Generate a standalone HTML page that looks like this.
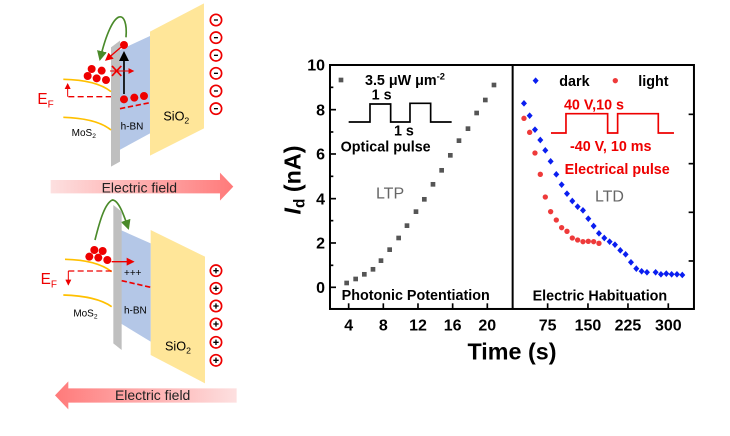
<!DOCTYPE html>
<html><head><meta charset="utf-8"><style>
html,body{margin:0;padding:0;background:#fff;}
svg{display:block;font-family:"Liberation Sans",Arial,sans-serif;}
</style></head><body>
<svg width="730" height="436" viewBox="0 0 730 436" xmlns="http://www.w3.org/2000/svg">
<defs>
<linearGradient id="gR" x1="0" x2="1"><stop offset="0" stop-color="#fde0e0"/><stop offset="1" stop-color="#ff7a7a"/></linearGradient>
<linearGradient id="gL" x1="0" x2="1"><stop offset="0" stop-color="#ff7a7a"/><stop offset="1" stop-color="#fde0e0"/></linearGradient>
<marker id="ar" markerWidth="6" markerHeight="6" refX="5" refY="3" orient="auto"><path d="M0,0 L6,3 L0,6z" fill="#e00"/></marker>
<marker id="ak" markerWidth="6" markerHeight="6" refX="5" refY="3" orient="auto"><path d="M0,0 L6,3 L0,6z" fill="#000"/></marker>
<marker id="ag" markerWidth="6" markerHeight="6" refX="5" refY="3" orient="auto"><path d="M0,0 L6,3 L0,6z" fill="#4a8a2a"/></marker>
</defs>
<!-- top diagram -->
<g transform="scale(0.3333)">
<polygon points="450,95 612,10 612,385 450,467" fill="#ffe699"/>
<polygon points="355,152 450,108 450,400 355,452" fill="#b4c7e7"/>
<polygon points="333,142 360,122 360,485 333,500" fill="#bfbfbf"/>
<g fill="none" stroke="#e00" stroke-width="5">
<circle cx="648" cy="60" r="17"/><circle cx="648" cy="113" r="17"/><circle cx="648" cy="166" r="17"/><circle cx="648" cy="220" r="17"/><circle cx="648" cy="273" r="17"/><circle cx="648" cy="326" r="17"/></g>
<g stroke="#000" stroke-width="4"><line x1="642" y1="60" x2="654" y2="60"/><line x1="642" y1="113" x2="654" y2="113"/><line x1="642" y1="166" x2="654" y2="166"/><line x1="642" y1="220" x2="654" y2="220"/><line x1="642" y1="273" x2="654" y2="273"/><line x1="642" y1="326" x2="654" y2="326"/></g>
<path d="M190,238 Q290,240 333,275" stroke="#ffc000" stroke-width="5" fill="none"/>
<path d="M190,352 Q290,355 333,390" stroke="#ffc000" stroke-width="5" fill="none"/>
<line x1="205" y1="290" x2="333" y2="290" stroke="#e00" stroke-width="4" stroke-dasharray="18,10"/>
<line x1="203" y1="290" x2="203" y2="252" stroke="#e00" stroke-width="3" marker-end="url(#ar)"/>
<text x="112" y="312" font-size="46" fill="#e00">E<tspan font-size="30" dy="10">F</tspan></text>
<line x1="360" y1="326" x2="450" y2="308" stroke="#e00" stroke-width="5" stroke-dasharray="16,8"/>
<line x1="372" y1="282" x2="372" y2="158" stroke="#000" stroke-width="5" marker-end="url(#ak)"/>
<line x1="365" y1="140" x2="318" y2="180" stroke="#e00" stroke-width="4" marker-end="url(#ar)"/>
<line x1="330" y1="213" x2="400" y2="213" stroke="#e00" stroke-width="3" marker-end="url(#ar)"/>
<path d="M336,198 L364,228 M364,198 L336,228" stroke="#e00" stroke-width="5"/>
<path d="M378,112 C385,30 340,10 300,178" stroke="#4a8a2a" stroke-width="5" fill="none" marker-end="url(#ag)"/>
<g fill="#ee0000"><circle cx="275" cy="207" r="12"/><circle cx="305" cy="212" r="12"/><circle cx="263" cy="228" r="12"/><circle cx="290" cy="235" r="12"/><circle cx="318" cy="240" r="12"/><circle cx="372" cy="298" r="12"/><circle cx="403" cy="293" r="12"/><circle cx="432" cy="288" r="12"/><circle cx="372" cy="135" r="12"/></g>
<text x="215" y="408" font-size="30">MoS<tspan font-size="20" dy="6">2</tspan></text>
<text x="362" y="388" font-size="30">h-BN</text>
<text x="490" y="362" font-size="38">SiO<tspan font-size="26" dy="8">2</tspan></text>
<polygon points="152,540 660,540 660,518 700,560 660,602 660,580 152,580" fill="url(#gR)"/>
<text x="418" y="578" font-size="42" text-anchor="middle" fill="#222">Electric field</text>
</g>
<!-- bottom diagram -->
<g transform="translate(0,210) scale(0.3333)">
<path d="M285,90 C300,30 315,-20 337,-30 C355,-30 370,10 385,55" stroke="#4a8a2a" stroke-width="5" fill="none" marker-end="url(#ag)"/>
<polygon points="452,60 615,140 615,520 452,435" fill="#ffe699"/>
<polygon points="362,60 452,100 452,395 362,340" fill="#b4c7e7"/>
<polygon points="340,-15 365,5 365,420 340,400" fill="#bfbfbf"/>
<g fill="none" stroke="#e00" stroke-width="5">
<circle cx="648" cy="182" r="17"/><circle cx="648" cy="235" r="17"/><circle cx="648" cy="288" r="17"/><circle cx="648" cy="342" r="17"/><circle cx="648" cy="397" r="17"/><circle cx="648" cy="451" r="17"/></g>
<g stroke="#000" stroke-width="4">
<path d="M640,182 h16 M648,174 v16"/><path d="M640,235 h16 M648,227 v16"/><path d="M640,288 h16 M648,280 v16"/><path d="M640,342 h16 M648,334 v16"/><path d="M640,397 h16 M648,389 v16"/><path d="M640,451 h16 M648,443 v16"/></g>
<path d="M195,148 Q290,150 335,185" stroke="#ffc000" stroke-width="5" fill="none"/>
<path d="M190,255 Q290,258 335,290" stroke="#ffc000" stroke-width="5" fill="none"/>
<line x1="205" y1="183" x2="335" y2="183" stroke="#e00" stroke-width="4" stroke-dasharray="18,10"/>
<line x1="205" y1="183" x2="205" y2="224" stroke="#e00" stroke-width="3" marker-end="url(#ar)"/>
<text x="122" y="222" font-size="46" fill="#e00">E<tspan font-size="30" dy="10">F</tspan></text>
<line x1="365" y1="212" x2="452" y2="232" stroke="#e00" stroke-width="5" stroke-dasharray="16,8"/>
<line x1="335" y1="155" x2="400" y2="155" stroke="#e00" stroke-width="4" marker-end="url(#ar)"/>
<text x="372" y="198" font-size="30">+++</text>
<g fill="#ee0000"><circle cx="283" cy="120" r="12"/><circle cx="308" cy="123" r="12"/><circle cx="268" cy="140" r="12"/><circle cx="295" cy="143" r="12"/><circle cx="322" cy="150" r="12"/></g>
<text x="220" y="320" font-size="30">MoS<tspan font-size="20" dy="6">2</tspan></text>
<text x="372" y="310" font-size="30">h-BN</text>
<text x="495" y="422" font-size="38">SiO<tspan font-size="26" dy="8">2</tspan></text>
<polygon points="710,535 205,535 205,514 165,556 205,598 205,578 710,578" fill="url(#gL)"/>
<text x="458" y="570" font-size="42" text-anchor="middle" fill="#222">Electric field</text>
</g>
<!-- chart -->
<g transform="translate(270,50) scale(0.3333)" font-weight="bold">
<rect x="180" y="45" width="1092" height="732" fill="none" stroke="#000" stroke-width="6"/>
<line x1="728" y1="45" x2="728" y2="777" stroke="#000" stroke-width="6"/>
<g stroke="#000" stroke-width="5">
<line x1="180" y1="45" x2="198" y2="45"/><line x1="180" y1="179" x2="198" y2="179"/><line x1="180" y1="312" x2="198" y2="312"/><line x1="180" y1="446" x2="198" y2="446"/><line x1="180" y1="579" x2="198" y2="579"/><line x1="180" y1="712" x2="198" y2="712"/>
<line x1="180" y1="112" x2="190" y2="112"/><line x1="180" y1="246" x2="190" y2="246"/><line x1="180" y1="379" x2="190" y2="379"/><line x1="180" y1="512" x2="190" y2="512"/><line x1="180" y1="646" x2="190" y2="646"/>
<line x1="1272" y1="45" x2="1256" y2="45"/><line x1="1272" y1="193" x2="1256" y2="193"/><line x1="1272" y1="341" x2="1256" y2="341"/><line x1="1272" y1="487" x2="1256" y2="487"/><line x1="1272" y1="633" x2="1256" y2="633"/><line x1="1272" y1="777" x2="1256" y2="777"/>
<line x1="236" y1="777" x2="236" y2="760"/><line x1="340" y1="777" x2="340" y2="760"/><line x1="444" y1="777" x2="444" y2="760"/><line x1="548" y1="777" x2="548" y2="760"/><line x1="652" y1="777" x2="652" y2="760"/>
<line x1="833" y1="777" x2="833" y2="760"/><line x1="954" y1="777" x2="954" y2="760"/><line x1="1074" y1="777" x2="1074" y2="760"/><line x1="1195" y1="777" x2="1195" y2="760"/>
</g>
<g font-size="48" text-anchor="end"><text x="165" y="62">10</text><text x="165" y="196">8</text><text x="165" y="329">6</text><text x="165" y="463">4</text><text x="165" y="596">2</text><text x="165" y="729">0</text></g>
<g font-size="48" text-anchor="middle"><text x="236" y="842">4</text><text x="340" y="842">8</text><text x="444" y="842">12</text><text x="548" y="842">16</text><text x="652" y="842">20</text><text x="833" y="842">75</text><text x="954" y="842">150</text><text x="1074" y="842">225</text><text x="1195" y="842">300</text></g>
<text x="726" y="928" font-size="70" text-anchor="middle">Time (s)</text>
<text transform="translate(92,390) rotate(-90)" font-size="70" text-anchor="middle"><tspan font-style="italic">I</tspan><tspan font-size="46" dy="12">d</tspan><tspan dy="-12"> (nA)</tspan></text>
<g fill="#555"><rect x="206" y="83" width="14" height="14"/><rect x="223" y="692" width="14" height="14"/><rect x="250" y="680" width="14" height="14"/><rect x="276" y="666" width="14" height="14"/><rect x="302" y="651" width="14" height="14"/><rect x="326" y="625" width="14" height="14"/><rect x="352" y="592" width="14" height="14"/><rect x="379" y="557" width="14" height="14"/><rect x="404" y="520" width="14" height="14"/><rect x="431" y="478" width="14" height="14"/><rect x="456" y="441" width="14" height="14"/><rect x="482" y="396" width="14" height="14"/><rect x="508" y="354" width="14" height="14"/><rect x="534" y="309" width="14" height="14"/><rect x="560" y="265" width="14" height="14"/><rect x="587" y="229" width="14" height="14"/><rect x="613" y="182" width="14" height="14"/><rect x="639" y="143" width="14" height="14"/><rect x="665" y="98" width="14" height="14"/></g>
<text x="285" y="105" font-size="43">3.5 μW μm<tspan font-size="28" dy="-16">-2</tspan></text>
<text x="305" y="148" font-size="43">1 s</text>
<path d="M236,216 L300,216 L300,162 L362,162 L362,216 L420,216 L420,160 L482,160 L482,216 L545,216" stroke="#000" stroke-width="5" fill="none"/>
<text x="372" y="256" font-size="43">1 s</text>
<text x="212" y="304" font-size="43">Optical pulse</text>
<text x="318" y="446" font-size="48" fill="#666" font-weight="normal">LTP</text>
<text x="215" y="750" font-size="43">Photonic Potentiation</text>
<text x="788" y="752" font-size="43">Electric Habituation</text>
<text x="975" y="455" font-size="48" fill="#666" font-weight="normal">LTD</text>
<g fill="#0a1ef0">
<path d="M0,-10 L9,0 L0,10 L-9,0z" transform="translate(797,92)"/>
<path d="M0,-10 L9,0 L0,10 L-9,0z" transform="translate(762,160)"/><path d="M0,-10 L9,0 L0,10 L-9,0z" transform="translate(779,197)"/><path d="M0,-10 L9,0 L0,10 L-9,0z" transform="translate(795,239)"/><path d="M0,-10 L9,0 L0,10 L-9,0z" transform="translate(811,270)"/><path d="M0,-10 L9,0 L0,10 L-9,0z" transform="translate(826,301)"/><path d="M0,-10 L9,0 L0,10 L-9,0z" transform="translate(842,334)"/><path d="M0,-10 L9,0 L0,10 L-9,0z" transform="translate(859,373)"/><path d="M0,-10 L9,0 L0,10 L-9,0z" transform="translate(875,404)"/><path d="M0,-10 L9,0 L0,10 L-9,0z" transform="translate(891,431)"/><path d="M0,-10 L9,0 L0,10 L-9,0z" transform="translate(907,453)"/><path d="M0,-10 L9,0 L0,10 L-9,0z" transform="translate(923,470)"/><path d="M0,-10 L9,0 L0,10 L-9,0z" transform="translate(939,481)"/><path d="M0,-10 L9,0 L0,10 L-9,0z" transform="translate(955,506)"/><path d="M0,-10 L9,0 L0,10 L-9,0z" transform="translate(971,528)"/><path d="M0,-10 L9,0 L0,10 L-9,0z" transform="translate(987,550)"/><path d="M0,-10 L9,0 L0,10 L-9,0z" transform="translate(1003,564)"/><path d="M0,-10 L9,0 L0,10 L-9,0z" transform="translate(1019,575)"/><path d="M0,-10 L9,0 L0,10 L-9,0z" transform="translate(1035,584)"/><path d="M0,-10 L9,0 L0,10 L-9,0z" transform="translate(1051,601)"/><path d="M0,-10 L9,0 L0,10 L-9,0z" transform="translate(1067,613)"/><path d="M0,-10 L9,0 L0,10 L-9,0z" transform="translate(1083,637)"/><path d="M0,-10 L9,0 L0,10 L-9,0z" transform="translate(1099,656)"/><path d="M0,-10 L9,0 L0,10 L-9,0z" transform="translate(1115,664)"/><path d="M0,-10 L9,0 L0,10 L-9,0z" transform="translate(1131,667)"/><path d="M0,-10 L9,0 L0,10 L-9,0z" transform="translate(1157,667)"/><path d="M0,-10 L9,0 L0,10 L-9,0z" transform="translate(1173,673)"/><path d="M0,-10 L9,0 L0,10 L-9,0z" transform="translate(1189,671)"/><path d="M0,-10 L9,0 L0,10 L-9,0z" transform="translate(1205,673)"/><path d="M0,-10 L9,0 L0,10 L-9,0z" transform="translate(1221,673)"/><path d="M0,-10 L9,0 L0,10 L-9,0z" transform="translate(1237,675)"/>
</g>
<g fill="#ee3a3a"><circle cx="1036" cy="92" r="8"/><circle cx="762" cy="205" r="8"/><circle cx="779" cy="247" r="8"/><circle cx="795" cy="309" r="8"/><circle cx="811" cy="373" r="8"/><circle cx="826" cy="441" r="8"/><circle cx="842" cy="485" r="8"/><circle cx="859" cy="510" r="8"/><circle cx="875" cy="533" r="8"/><circle cx="891" cy="544" r="8"/><circle cx="907" cy="564" r="8"/><circle cx="923" cy="570" r="8"/><circle cx="939" cy="575" r="8"/><circle cx="955" cy="574" r="8"/><circle cx="971" cy="575" r="8"/><circle cx="987" cy="580" r="8"/></g>
<text x="868" y="108" font-size="43">dark</text>
<text x="1105" y="108" font-size="43">light</text>
<text x="882" y="178" font-size="43" fill="#e00">40 V,10 s</text>
<path d="M843,249 L888,249 L888,191 L1013,191 L1013,249 L1043,249 L1043,191 L1165,191 L1165,249 L1212,249" stroke="#e00" stroke-width="5" fill="none"/>
<text x="900" y="303" font-size="43" fill="#e00">-40 V, 10 ms</text>
<text x="884" y="372" font-size="43" fill="#e00">Electrical pulse</text>
</g>
</svg>
</body></html>
